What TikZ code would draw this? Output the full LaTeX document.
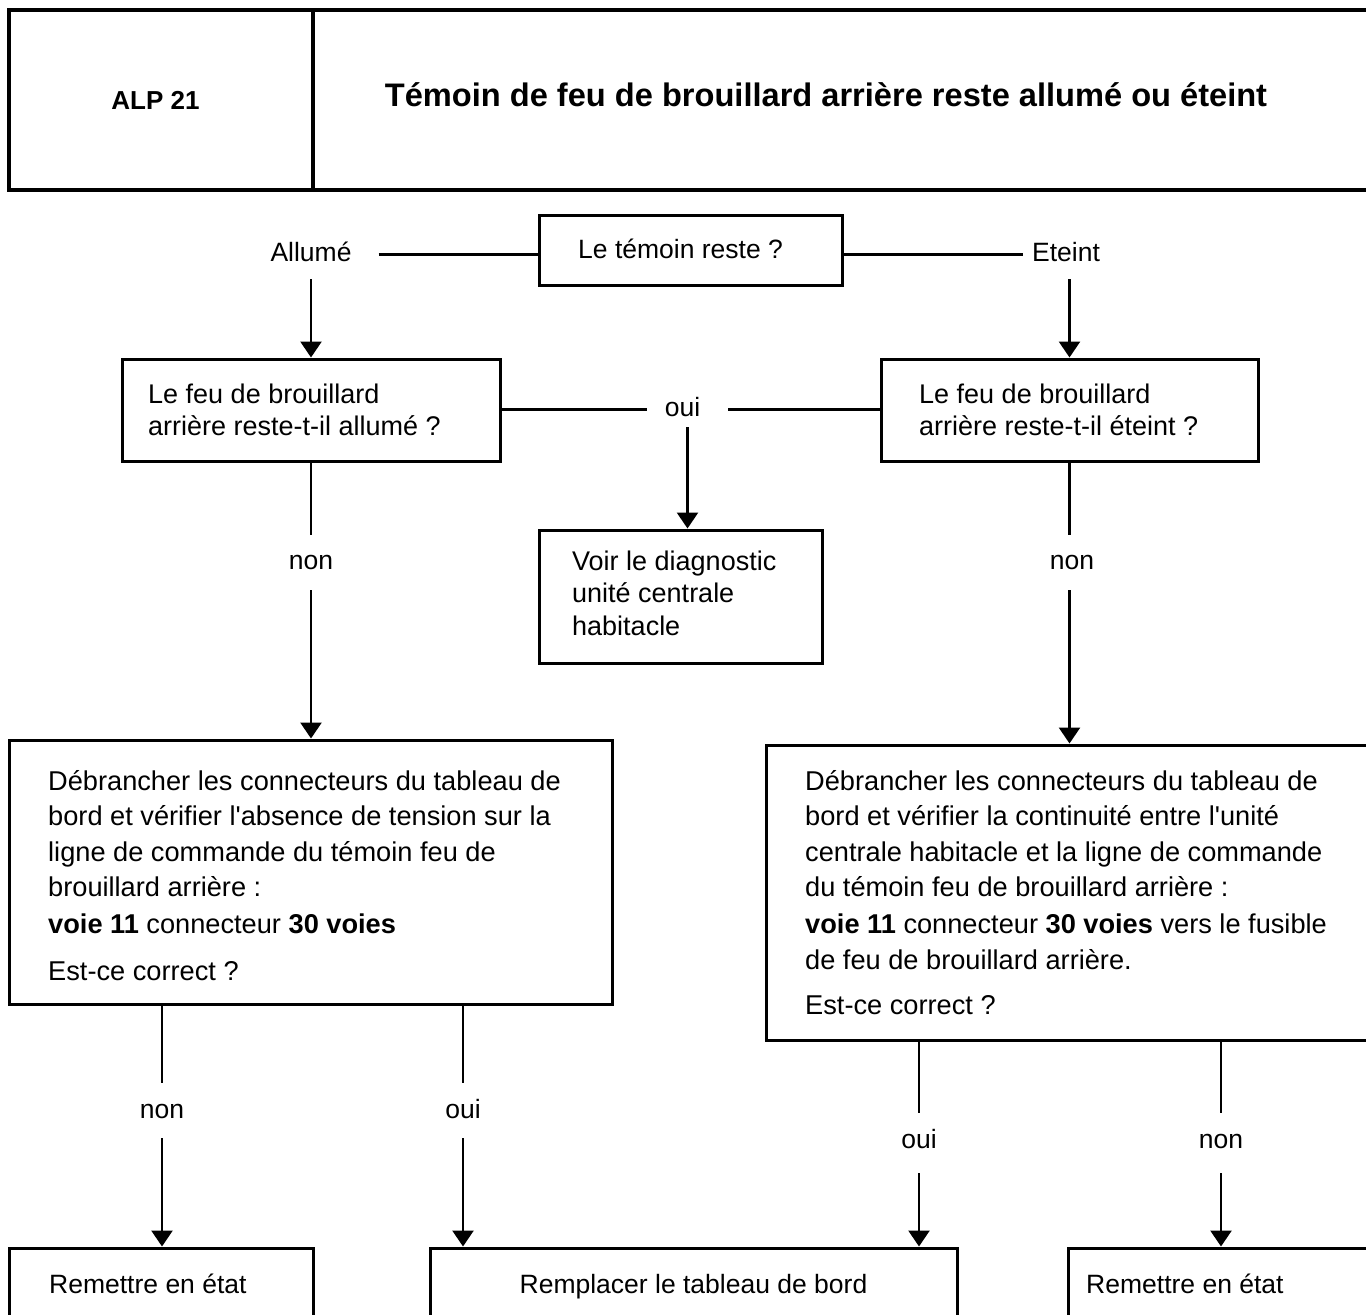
\documentclass[tikz,border=0pt]{standalone}
\usepackage{fontspec}
\setmainfont{Liberation Sans}[Ligatures=TeXOff]
\usetikzlibrary{arrows.meta,calc}
% fixed-height strut so the first baseline sits 30pt below a text block's top
\newcommand{\firstline}{\rule{0pt}{30pt}}

\begin{document}
\begin{tikzpicture}[x=1pt,y=-1pt,
  frame/.style={draw, line width=3pt, inner sep=0pt},
  body/.style={font=\fontsize{27}{32.5}\selectfont, inner sep=0pt, align=left, anchor=north west},
  wide/.style={body, font=\fontsize{27.2}{35.5}\selectfont},
  line1/.style={font=\fontsize{26.5}{30}\selectfont, inner sep=0pt, anchor=base west},
  lbl/.style={font=\fontsize{26.5}{30}\selectfont, inner sep=0pt, text height=19pt, text depth=6pt, anchor=base},
  link/.style={line width=2.6pt},
  flow/.style={link, -{Triangle[width=21pt,length=16pt]}}]

\useasboundingbox (0,0) rectangle (1366,1315);
\clip (0,0) rectangle (1366,1315);

% title block
\node[frame, line width=4pt, minimum width=1371, minimum height=180] (head) at (694.5,100) {};
\draw[line width=4pt] (313,10) -- (313,192);
\node[font=\bfseries\fontsize{26}{30}\selectfont, inner sep=0pt, anchor=base] (code) at (155.5,109) {ALP 21};
\node[font=\bfseries\fontsize{32.6}{36}\selectfont, inner sep=0pt, anchor=base] (title) at (826,106)
  {Témoin de feu de brouillard arrière reste allumé ou éteint};

% first question
\node[frame, minimum width=303, minimum height=70] (q0) at (690.5,250) {};
\node[line1] (q0t) at (578,258) {Le témoin reste ?};
\node[lbl] (allume) at (311,261) {Allumé};
\node[lbl] (eteint) at (1066,261) {Eteint};

% second level questions
\node[frame, minimum width=378, minimum height=102] (q1l) at (311,410) {};
\node[body] (q1lt) at (148,373) {\firstline Le feu de brouillard\\arrière reste-t-il allumé ?};
\node[frame, minimum width=377, minimum height=102] (q1r) at (1069.5,410) {};
\node[body] (q1rt) at (919,373) {\firstline Le feu de brouillard\\arrière reste-t-il éteint ?};
\node[lbl] (oui0) at (682.5,416) {oui};

\node[frame, minimum width=283, minimum height=133] (diag) at (680.5,596.5) {};
\node[body] (diagt) at (572,540) {\firstline Voir le diagnostic\\unité centrale\\habitacle};

\node[lbl] (nonL) at (311,569) {non};
\node[lbl] (nonR) at (1072,569) {non};

% checks
\node[frame, minimum width=603, minimum height=264] (actL) at (310.5,872) {};
\node[wide] (actLt) at (48,760) {\firstline Débrancher les connecteurs du tableau de\\
  bord et vérifier l'absence de tension sur la\\
  ligne de commande du témoin feu de\\
  brouillard arrière :\\[1.5pt]
  \textbf{voie 11} connecteur \textbf{30 voies}\\[11.5pt]
  Est-ce correct ?};

\node[frame, minimum width=614, minimum height=295] (actR) at (1073,892.5) {};
\node[wide] (actRt) at (805,760) {\firstline Débrancher les connecteurs du tableau de\\
  bord et vérifier la continuité entre l'unité\\
  centrale habitacle et la ligne de commande\\
  du témoin feu de brouillard arrière :\\[1.5pt]
  \textbf{voie 11} connecteur \textbf{30 voies} vers le fusible\\
  de feu de brouillard arrière.\\[9.5pt]
  Est-ce correct ?};

\node[lbl] (nonLL) at (162,1118) {non};
\node[lbl] (ouiLR) at (463,1118) {oui};
\node[lbl] (ouiRL) at (919,1148) {oui};
\node[lbl] (nonRR) at (1221,1148) {non};

% outcomes
\node[frame, minimum width=304, minimum height=92] (fixL) at (161,1294) {};
\node[line1] (fixLt) at (49,1293) {Remettre en état};
\node[frame, minimum width=527, minimum height=92] (repl) at (693.5,1294) {};
\node[line1, anchor=base] (replt) at (693.5,1293) {Remplacer le tableau de bord};
\node[frame, minimum width=312, minimum height=92] (fixR) at (1224,1294) {};
\node[line1] (fixRt) at (1086,1293) {Remettre en état};

% connectors
\draw[link, shorten <=27pt] (allume.east) -- (allume.east -| q0.west);
\draw[link, shorten >=9pt] (q0.east |- eteint.west) -- (eteint.west);
\draw[flow, shorten <=12pt] (q1l.north |- allume.south) -- (q1l.north);
\draw[flow, shorten <=12pt] (q1r.north |- eteint.south) -- (q1r.north);

\draw[link, shorten >=18pt] (q1l.east |- oui0.west) -- (oui0.west);
\draw[link, shorten <=28pt] (oui0.east) -- (oui0.east -| q1r.west);
\draw[flow, shorten <=5pt] ([xshift=5pt]oui0.south) -- ([xshift=5pt]oui0.south |- diag.north);

\draw[link, shorten >=15pt] (q1l.south) -- (q1l.south |- nonL.north);
\draw[flow, shorten <=15pt] (q1l.south |- nonL.south) -- (q1l.south |- actL.north);
\draw[link, shorten >=15pt] (q1r.south) -- (q1r.south |- nonR.north);
\draw[flow, shorten <=15pt] (q1r.south |- nonR.south) -- (q1r.south |- actR.north);

\draw[link, shorten >=16pt] (nonLL.north |- actL.south) -- (nonLL.north);
\draw[flow, shorten <=14pt] (nonLL.south) -- (nonLL.south |- fixL.north);
\draw[link, shorten >=16pt] (ouiLR.north |- actL.south) -- (ouiLR.north);
\draw[flow, shorten <=14pt] (ouiLR.south) -- (ouiLR.south |- repl.north);

\draw[link, shorten >=16pt] (ouiRL.north |- actR.south) -- (ouiRL.north);
\draw[flow, shorten <=19pt] (ouiRL.south) -- (ouiRL.south |- repl.north);
\draw[link, shorten >=16pt] (nonRR.north |- actR.south) -- (nonRR.north);
\draw[flow, shorten <=19pt] (nonRR.south) -- (nonRR.south |- fixR.north);
\end{tikzpicture}
\end{document}
